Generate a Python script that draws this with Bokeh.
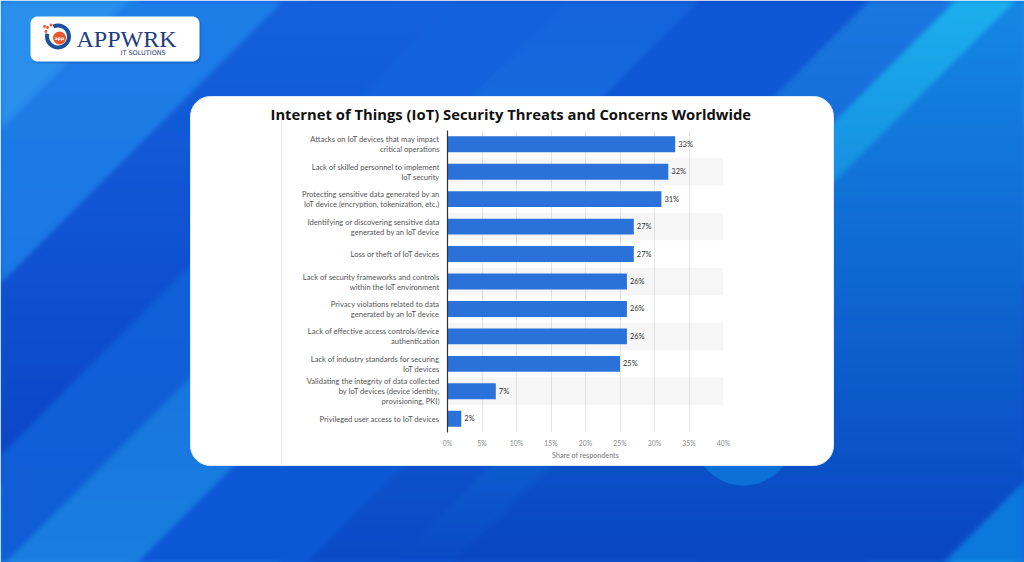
import numpy as np
from bokeh.plotting import figure
from bokeh.models import FactorRange, Range1d, FixedTicker, ColumnDataSource
from bokeh.core.properties import value
from bokeh.embed import file_html
from bokeh.resources import INLINE

# ---------------- data ----------------
categories = [
    "Attacks on IoT devices that may impact\ncritical operations",
    "Lack of skilled personnel to implement\nIoT security",
    "Protecting sensitive data generated by an\nIoT device (encryption, tokenization, etc.)",
    "Identifying or discovering sensitive data\ngenerated by an IoT device",
    "Loss or theft of IoT devices",
    "Lack of security frameworks and controls\nwithin the IoT environment",
    "Privacy violations related to data\ngenerated by an IoT device",
    "Lack of effective access controls/device\nauthentication",
    "Lack of industry standards for securing\nIoT devices",
    "Validating the integrity of data collected\nby IoT devices (device identity,\nprovisioning, PKI)",
    "Privileged user access to IoT devices",
]
shares = [33, 32, 31, 27, 27, 26, 26, 26, 25, 7, 2]
value_labels = [f"{s}%" for s in shares]
xtick_values = [0, 5, 10, 15, 20, 25, 30, 35, 40]
xtick_labels = ["0%", "5%", "10%", "15%", "20%", "25%", "30%", "35%", "40%"]
title_text = "Internet of Things (IoT) Security Threats and Concerns Worldwide"
x_axis_title = "Share of respondents"
brand_name = "APPWRK"
brand_sub = "IT SOLUTIONS"

W, H = 1024, 562
ABS = {"position": "absolute", "left": "0px", "top": "0px"}


def fy(y):
    return H - y


def hex2rgb(h):
    h = h.lstrip("#")
    return np.array([int(h[i:i + 2], 16) for i in (0, 2, 4)], dtype=float)


def rrect(x0, y0, x1, y1, r, n=10):
    xs, ys = [], []
    corners = [(x1 - r, y0 + r, -90, 0), (x1 - r, y1 - r, 0, 90),
               (x0 + r, y1 - r, 90, 180), (x0 + r, y0 + r, 180, 270)]
    for cx, cy, a0, a1 in corners:
        for t in np.radians(np.linspace(a0, a1, n)):
            xs.append(cx + r * np.cos(t))
            ys.append(fy(cy + r * np.sin(t)))
    return xs, ys


# ---------------- background scene ----------------
bg = figure(width=W, height=H, x_range=Range1d(0, W), y_range=Range1d(0, H),
            x_axis_type=None, y_axis_type=None, toolbar_location=None,
            output_backend="svg", min_border=0, outline_line_color=None,
            styles=ABS)

IW, IH = 512, 281
gx = (np.arange(IW) + 0.5) * W / IW
gy = (np.arange(IH) + 0.5) * H / IH
X, Y = np.meshgrid(gx, gy)
C = X + Y
v = (Y / H)[..., None]
# diagonal bands: (upper bound of x+y, colour at top, colour at bottom)
bands = [
    (130, "#2a8eec", "#2a8eec"),
    (283, "#1e7ee8", "#1a72e2"),
    (455, "#1462dc", "#0a40c4"),
    (567, "#1363dc", "#0f5ed6"),
    (700, "#1465dc", "#1a7fe0"),
    (870, "#0e56d4", "#0c58d4"),
    (955, "#1a78e0", "#0a4ac6"),
    (1015, "#1cb0ee", "#0a4ac6"),
    (1505, "#1588e4", "#0946c0"),
    (9999, "#0d7ae0", "#0b78de"),
]
rgb = np.zeros((IH, IW, 3))
lo = -1e9
for hi, ctop, cbot in bands:
    m = ((C >= lo) & (C < hi))[..., None]
    col = (1 - v) * hex2rgb(ctop) + v * hex2rgb(cbot)
    rgb = np.where(m, col, rgb)
    lo = hi
# soften the band edges a little
for _ in range(2):
    rgb = (np.roll(rgb, 1, 0) + rgb + np.roll(rgb, -1, 0)) / 3
    rgb = (np.roll(rgb, 1, 1) + rgb + np.roll(rgb, -1, 1)) / 3
img = np.empty((IH, IW), dtype=np.uint32)
view = img.view(dtype=np.uint8).reshape((IH, IW, 4))
view[..., :3] = np.clip(rgb, 0, 255).astype(np.uint8)
view[..., 3] = 255
bg.image_rgba(image=[np.flipud(img)], x=0, y=0, dw=W, dh=H)

# soft circle behind card
bg.circle(x=[743], y=[fy(435)], radius=50, fill_color="#0d70d8", line_color=None)

# card
cx, cy = rrect(190, 96, 833, 465, 20)
bg.patch(cx, cy, fill_color="#ffffff", line_color="#dce9fb", line_width=1)
bg.segment(x0=[281], y0=[fy(118)], x1=[281], y1=[fy(465)], line_color="#efefef", line_width=1)

# logo
sx, sy = rrect(31, 18, 201, 63, 7)
bg.patch(sx, sy, fill_color="#0a3a9a", fill_alpha=0.25, line_color=None)
lx, ly = rrect(30, 16, 199, 61, 7)
bg.patch(lx, ly, fill_color="#ffffff", line_color=None)
bg.annular_wedge(x=[57.5], y=[fy(36)], inner_radius=9, outer_radius=13,
                 start_angle=np.radians(165), end_angle=np.radians(115),
                 direction="anticlock", fill_color="#1c4f9c", line_color=None)
bg.circle(x=[59], y=[fy(37.5)], radius=6.5, fill_color="#e8552b", line_color=None)
bg.circle(x=[47, 50.5, 45.5, 44], y=[fy(27), fy(24.5), fy(31), fy(26)], radius=1.4,
          fill_color="#e8552b", line_color=None)
bg.text(x=[59], y=[fy(37.5)], text=["app"], text_font=value("DejaVu Sans"),
        text_font_size="4.5px", text_font_style="bold", text_color="#ffffff",
        text_align="center", text_baseline="middle")
bg.text(x=[76], y=[fy(38)], text=[brand_name], text_font=value("Liberation Serif"),
        text_font_size="24px", text_color="#1d3d7c", text_baseline="middle")
bg.text(x=[120], y=[fy(52.5)], text=[brand_sub], text_font=value("DejaVu Sans"),
        text_font_size="6.5px", text_color="#1d3d7c", text_baseline="middle")

# ---------------- chart ----------------
p = figure(width=W, height=H, y_range=FactorRange(factors=categories[::-1]),
           x_range=Range1d(xtick_values[0], xtick_values[-1]),
           output_backend="svg", toolbar_location=None,
           min_border_left=447, min_border_right=301, min_border_top=130,
           min_border_bottom=130, styles=ABS, title=title_text)
p.background_fill_color = None
p.border_fill_color = None
p.outline_line_color = None
p.y_range.range_padding = 0

p.title.text_font = "Open Sans"
p.title.text_font_size = "14.8px"
p.title.text_font_style = "bold"
p.title.text_color = "#111111"
p.title.align = "left"
p.title.offset = -177
p.title.standoff = 13

stripe_src = ColumnDataSource(dict(y=categories[1::2]))
p.hbar(y="y", left=xtick_values[0], right=xtick_values[-1], height=1, source=stripe_src,
       fill_color="#000000", fill_alpha=0.035, line_color=None)

src = ColumnDataSource(dict(cat=categories, share=shares, lab=value_labels))
p.hbar(y="cat", right="share", height=0.58, source=src, fill_color="#2a71d9", line_color=None)
p.text(x="share", y="cat", text="lab", source=src, x_offset=3, text_baseline="middle",
       text_font=value("Lato"), text_font_size="7.5px", text_color="#333333")

p.xaxis.ticker = FixedTicker(ticks=xtick_values)
p.xaxis.major_label_overrides = dict(zip(xtick_values, xtick_labels))
p.xaxis.axis_line_color = None
p.xaxis.major_tick_line_color = None
p.xaxis.minor_tick_line_color = None
p.xaxis.major_tick_out = 0
p.xaxis.major_tick_in = 0
p.xaxis.major_label_text_font = "Lato"
p.xaxis.major_label_text_font_size = "6.8px"
p.xaxis.major_label_text_color = "#8a8a8a"
p.xaxis.major_label_standoff = 6
p.xaxis.axis_label = x_axis_title
p.xaxis.axis_label_text_font = "Lato"
p.xaxis.axis_label_text_font_size = "7.2px"
p.xaxis.axis_label_text_font_style = "normal"
p.xaxis.axis_label_text_color = "#777777"
p.xaxis.axis_label_standoff = 1

p.xgrid.ticker = FixedTicker(ticks=xtick_values)
p.xgrid.grid_line_color = "#e6e6e6"
p.ygrid.visible = False

p.yaxis.axis_line_color = "#333333"
p.yaxis.axis_line_width = 1.2
p.yaxis.major_tick_line_color = None
p.yaxis.minor_tick_line_color = None
p.yaxis.major_tick_out = 0
p.yaxis.major_tick_in = 0
p.yaxis.major_label_text_font = "Lato"
p.yaxis.major_label_text_font_size = "7.6px"
p.yaxis.major_label_text_line_height = 1.0
p.yaxis.major_label_text_color = "#555555"
p.yaxis.major_label_standoff = 8

open("out.html", "w").write(file_html([bg, p], INLINE))
